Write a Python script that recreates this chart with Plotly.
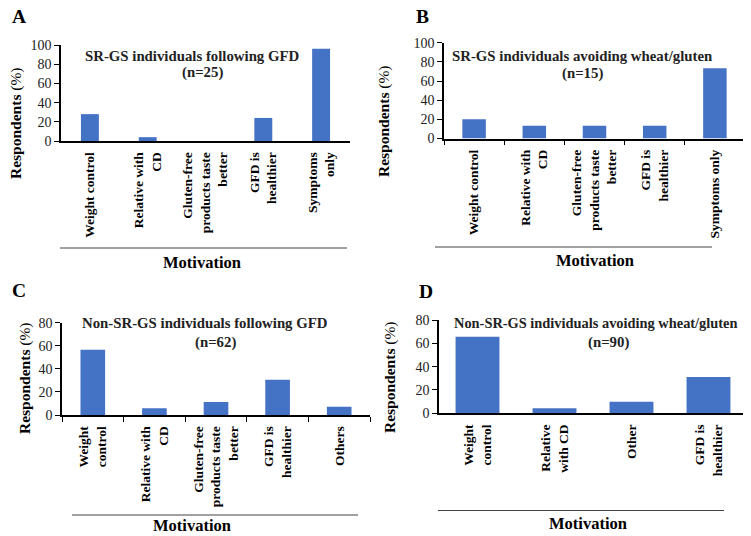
import plotly.graph_objects as go

# Panel data (% of respondents)
a_labels = ["Weight control", "Relative with<br>CD", "Gluten-free<br>products taste<br>better",
            "GFD is<br>healthier", "Symptoms<br>only"]
a_values = [28, 4, 0, 24, 96]

b_labels = ["Weight control", "Relative with<br>CD", "Gluten-free<br>products taste<br>better",
            "GFD is<br>healthier", "Symptoms only"]
b_values = [20, 13.3, 13.3, 13.3, 73.3]

c_labels = ["Weight<br>control", "Relative with<br>CD", "Gluten-free<br>products taste<br>better",
            "GFD is<br>healthier", "Others"]
c_values = [56.5, 5.8, 11.3, 30.6, 7.2]

d_labels = ["Weight<br>control", "Relative<br>with CD", "Other", "GFD is<br>healthier"]
d_values = [65.6, 4.4, 10, 31.1]

titles = ["SR-GS individuals following GFD",
          "SR-GS individuals avoiding wheat/gluten",
          "Non-SR-GS individuals following GFD",
          "Non-SR-GS individuals avoiding wheat/gluten"]
sample_sizes = ["(n=25)", "(n=15)", "(n=62)", "(n=90)"]
letters = ["A", "B", "C", "D"]

W, H = 751, 536
OFF = 8  # page body margin: the plot div starts 8px in from the window corner
BAR = "#4472C4"
SERIF = "Liberation Serif"


def px(x):
    return (x - OFF) / W


def py(y):
    return 1 - (y - OFF) / H


# pixel geometry of each panel: x0, x1, y_zero, y_top, ymax, bar width, ticks?
panels = [
    dict(lab=a_labels, val=a_values, x0=61, x1=350, yb=141, yt=45, ymax=100, bw=0.31, ticks=False),
    dict(lab=b_labels, val=b_values, x0=444, x1=745, yb=138.5, yt=42.7, ymax=100, bw=0.39, ticks=True),
    dict(lab=c_labels, val=c_values, x0=62, x1=370, yb=415, yt=322.7, ymax=80, bw=0.40, ticks=True),
    dict(lab=d_labels, val=d_values, x0=439, x1=747, yb=413.3, yt=320, ymax=80, bw=0.57, ticks=False),
]

fig = go.Figure()
layout = {}
for i, p in enumerate(panels):
    n = "" if i == 0 else str(i + 1)
    cats = [f"c{k}" for k in range(len(p["lab"]))]
    fig.add_trace(go.Bar(x=cats, y=p["val"], width=p["bw"], marker_color=BAR,
                         marker_line_width=0, xaxis="x" + n, yaxis="y" + n,
                         showlegend=False))
    layout["xaxis" + n] = dict(
        domain=[px(p["x0"]), px(p["x1"])], anchor="y" + n, automargin=False,
        type="category", tickvals=cats, ticktext=p["lab"], tickangle=-90,
        range=[-0.5, len(cats) - 0.5],
        showline=True, linecolor="black", linewidth=1.5,
        ticks="outside" if p["ticks"] else "", tickson="boundaries",
        ticklen=5, tickcolor="black", tickwidth=1.2,
        ticklabelstandoff=4,
        tickfont=dict(family=SERIF, size=13.5, color="black", weight=700),
        showgrid=False, zeroline=False, fixedrange=True,
    )
    layout["yaxis" + n] = dict(
        domain=[py(p["yb"]), py(p["yt"])], anchor="x" + n, automargin=False,
        range=[0, p["ymax"]], dtick=20,
        showline=True, linecolor="black", linewidth=1.5,
        ticks="outside", ticklen=5, tickcolor="black", tickwidth=1.2,
        tickfont=dict(family=SERIF, size=14, color="#222"),
        showgrid=False, zeroline=False, fixedrange=True,
    )


def note(text, x, y, size, angle=0, color="black"):
    return dict(text=text, x=px(x), y=py(y), xref="paper", yref="paper",
                xanchor="center", yanchor="middle", showarrow=False, align="center",
                textangle=angle, font=dict(family=SERIF, size=size, color=color))


annotations = []
# panel titles (first line and sample size placed separately, as in the source)
title_pos = [(192, 56), (582, 56), (204, 323), (596, 323)]
n_pos = [(202, 72), (582, 73), (216, 342), (608, 342)]
title_sizes = [14.8, 14.8, 14.8, 14.4]
for t, (x, y), s in zip(titles, title_pos, title_sizes):
    annotations.append(note(f"<b>{t}</b>", x, y, s, color="#222"))
for t, (x, y) in zip(sample_sizes, n_pos):
    annotations.append(note(f"<b>{t}</b>", x, y, 14.8, color="#222"))
# panel letters
letter_pos = [(19, 17), (422, 17), (19, 290), (426, 291)]
for t, (x, y) in zip(letters, letter_pos):
    annotations.append(note(f"<b>{t}</b>", x, y, 19.5))
# y titles
ytitle_pos = [(16, 123), (384, 121), (25, 378), (390, 377)]
for x, y in ytitle_pos:
    annotations.append(note("<b>Respondents</b> (%)", x, y, 15.5, angle=-90))
# x titles
xtitle_pos = [(202, 262), (595, 260), (192, 525), (588, 523)]
for x, y in xtitle_pos:
    annotations.append(note("<b>Motivation</b>", x, y, 16.5))

# rule lines above "Motivation"
shapes = []
rule_pos = [(60, 347, 248), (435, 712, 247), (72, 358, 515), (438, 724, 510.5)]
for x0, x1, y in rule_pos:
    shapes.append(dict(type="line", xref="paper", yref="paper", x0=px(x0), x1=px(x1),
                       y0=py(y), y1=py(y), line=dict(color="#444", width=1)))

fig.update_layout(
    width=W, height=H, autosize=False,
    margin=dict(l=0, r=0, t=0, b=0),
    paper_bgcolor="white", plot_bgcolor="white",
    annotations=annotations, shapes=shapes,
    **layout,
)

fig.write_html("out.html", config={"displayModeBar": False})
